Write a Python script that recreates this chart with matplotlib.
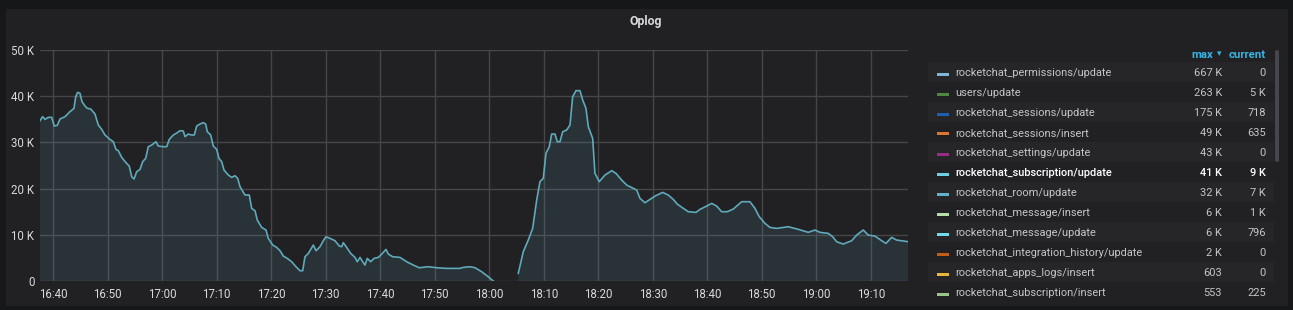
import numpy as np
import pandas as pd
import matplotlib
matplotlib.use("Agg")
import matplotlib.pyplot as plt
import matplotlib.dates as mdates
from matplotlib.patches import Rectangle, FancyBboxPatch

plt.rcParams['font.family'] = ['Roboto', 'DejaVu Sans']

# ---- data: minutes after 16:00, value in thousands ----
minutes = [37.56, 38.05, 38.48, 39.08, 39.71, 40.18, 40.73, 41.23, 42.15, 43.06, 43.80, 44.11, 44.48,
           44.90, 45.27, 45.82, 46.24, 46.86, 47.65, 48.26, 48.88, 49.49, 50.40, 51.01, 51.50, 51.93,
           52.55, 53.34, 53.94, 54.39, 54.81, 55.30, 55.91, 56.40, 56.95, 57.43, 58.06, 58.84, 59.27,
           60.18, 60.81, 61.28, 62.02, 62.75, 63.25, 63.85, 64.17, 64.77, 65.39, 65.87, 66.31, 66.92,
           67.52, 67.96, 68.26, 68.88, 69.36, 69.98, 70.40, 70.90, 71.32, 72.11, 72.73, 73.34, 73.83,
           74.26, 75.17, 75.96, 76.40, 77.01, 77.43, 78.24, 79.03, 79.45, 80.26, 80.99, 81.60, 82.20,
           82.94, 83.74, 84.53, 85.27, 85.76, 86.18, 86.79, 87.71, 88.20, 88.94, 89.54, 90.04, 90.77,
           91.69, 92.48, 92.92, 93.21, 93.83, 94.57, 95.36, 95.78, 96.28, 96.77, 97.19, 97.61, 98.24,
           98.84, 99.63, 100.26, 101.05, 101.47, 102.28, 103.61, 104.84, 106.06, 107.16, 108.81,
           110.35, 112.18, 114.62, 115.23, 116.46, 117.38, 118.61, 119.82, 120.73,
           123.00,
           125.32, 126.24, 127.16, 127.96, 128.70, 129.30, 129.91, 130.40, 131.01, 131.45, 132.06,
           132.48, 132.97, 133.47, 134.20, 134.81, 135.30, 135.91, 136.64, 137.14, 137.74, 138.17,
           138.97, 139.39, 140.18, 141.23, 142.46, 143.25, 144.29, 145.21, 146.42, 147.05, 147.65,
           148.57, 149.49, 150.40, 151.82, 152.84, 153.76, 154.50, 155.60, 156.51, 157.93, 158.66,
           159.89, 160.81, 161.72, 162.64, 163.67, 164.77, 166.31, 167.83, 168.75, 169.54, 170.59,
           171.50, 172.73, 174.86, 176.70, 178.53, 179.76, 180.68, 182.20, 183.01, 183.74, 184.95,
           186.50, 187.41, 188.62, 189.54, 190.77, 192.00, 192.79, 193.83, 194.75, 196.88]

values_k = [34.71, 35.57, 34.99, 35.42, 35.42, 33.54, 33.69, 35.06, 35.57, 36.65, 37.37, 39.90, 40.84,
            40.62, 38.82, 37.88, 37.37, 37.23, 36.15, 33.76, 32.82, 31.60, 30.66, 30.15, 28.49, 28.20,
            26.76, 25.60, 24.88, 22.57, 22.07, 23.65, 24.16, 25.82, 26.54, 29.07, 29.43, 30.15, 29.21,
            29.07, 29.07, 30.66, 31.60, 32.10, 32.54, 32.46, 31.24, 31.81, 31.60, 31.60, 33.54, 33.98,
            34.27, 33.98, 32.32, 31.60, 29.21, 28.49, 26.54, 25.82, 24.02, 22.94, 22.43, 22.79, 22.22,
            20.41, 18.61, 18.61, 15.72, 15.21, 13.19, 11.60, 11.03, 9.22, 7.78, 7.27, 6.55, 5.40,
            4.89, 4.17, 3.09, 2.22, 2.22, 5.25, 5.97, 7.78, 6.55, 7.42, 8.72, 9.58, 9.22,
            8.72, 7.56, 7.42, 8.29, 7.27, 5.97, 5.11, 4.17, 5.11, 4.17, 3.45, 4.89, 4.17,
            4.89, 5.11, 5.83, 6.84, 5.83, 5.25, 5.11, 4.17, 3.45, 2.87, 3.09,
            2.87, 2.73, 2.73, 2.95, 3.09, 2.87, 2.00, 0.92, 0.0,
            None,
            1.66, 6.35, 8.88, 11.40, 17.54, 21.51, 22.22, 27.64, 29.07, 31.81, 31.81,
            30.15, 30.15, 32.32, 32.68, 33.76, 39.90, 41.20, 41.20, 39.18, 37.37, 33.40,
            30.87, 23.29, 21.51, 22.94, 23.88, 23.29, 21.85, 20.77, 20.05, 19.69, 17.88,
            16.94, 17.66, 18.38, 19.18, 18.61, 17.66, 16.65, 15.72, 15.00, 14.85, 15.50,
            16.22, 16.80, 16.22, 15.00, 15.00, 15.57, 17.16, 17.16, 15.72, 13.91, 12.47,
            11.60, 11.39, 11.75, 11.18, 10.53, 11.03, 10.53, 10.31, 9.58, 8.50, 8.00,
            8.72, 9.94, 11.03, 9.94, 9.72, 8.72, 8.14, 9.44, 8.86, 8.50]

series_name = "rocketchat_subscription/update"

legend_names = ["rocketchat_permissions/update", "users/update", "rocketchat_sessions/update",
                "rocketchat_sessions/insert", "rocketchat_settings/update",
                "rocketchat_subscription/update", "rocketchat_room/update",
                "rocketchat_message/insert", "rocketchat_message/update",
                "rocketchat_integration_history/update", "rocketchat_apps_logs/insert",
                "rocketchat_subscription/insert"]
legend_max = ["667 K", "263 K", "175 K", "49 K", "43 K", "41 K", "32 K", "6 K", "6 K", "2 K", "603", "553"]
legend_current = ["0", "5 K", "718", "635", "0", "9 K", "7 K", "1 K", "796", "0", "0", "225"]
legend_colors = ["#82B5D8", "#508642", "#1F5FAF", "#E0752D", "#962D82", "#6ED0E0", "#64B0C8",
                 "#B7DBAB", "#70DBED", "#C15C17", "#EAB839", "#9AC48A"]

y_ticks_k = [0, 10, 20, 30, 40, 50]
y_tick_labels = ["0", "10 K", "20 K", "30 K", "40 K", "50 K"]

# ---- build ----
W, H = 1293, 310
fig = plt.figure(figsize=(W / 100, H / 100), dpi=100)
fig.patch.set_facecolor("#161719")

def px(x, y):
    return x / W, 1 - y / H

# panel background (behind everything)
fig.patches.append(Rectangle((6 / W, 1 - 306 / H), (1288 - 6) / W, (306 - 9) / H,
                             transform=fig.transFigure, facecolor="#212124", edgecolor="none",
                             zorder=-10))

fig.text(*px(646, 21), "Oplog", ha="center", va="center", color="#d8d9da",
         fontsize=8.8, fontweight="bold")

ax_l, ax_r, ax_t, ax_b = 40, 908, 50, 281
ax = fig.add_axes([ax_l / W, 1 - ax_b / H, (ax_r - ax_l) / W, (ax_b - ax_t) / H])
ax.set_facecolor("none")
ax.set_zorder(5)

base = pd.Timestamp("2020-01-01 16:00:00")
t = [base + pd.Timedelta(minutes=m) for m in minutes]
v = np.array([np.nan if x is None else x * 1000 for x in values_k], dtype=float)
tn = mdates.date2num(t)

line_color = "#60A9BA"
ax.fill_between(tn, 0, v, where=~np.isnan(v), color="#6ED0E0", alpha=0.10, linewidth=0, zorder=2)
ax.plot(tn, v, color=line_color, linewidth=1.2, zorder=3, solid_joinstyle="round")

ax.set_xlim(mdates.date2num(base + pd.Timedelta(minutes=37.56)),
            mdates.date2num(base + pd.Timedelta(minutes=196.83)))
ax.set_ylim(0, 50000)
ax.set_yticks([k * 1000 for k in y_ticks_k])
ax.set_yticklabels(y_tick_labels)
ax.xaxis.set_major_locator(mdates.MinuteLocator(byminute=range(0, 60, 10)))
ax.xaxis.set_major_formatter(mdates.DateFormatter("%H:%M"))
ax.grid(True, color="#464648", linewidth=1.0, zorder=1)
ax.set_axisbelow(True)
for s in ax.spines.values():
    s.set_visible(False)
ax.tick_params(axis="both", length=0, colors="#d8d9da", labelsize=8.3)
ax.tick_params(axis="y", pad=4)
ax.tick_params(axis="x", pad=5)

# ---- legend table ----
row0 = 72
dy = 20
fig.text(*px(1213, 55), "max", ha="right", va="center", color="#33b5e5", fontsize=8.2, fontweight="bold")
fig.text(*px(1221, 54), "\u25BE", ha="right", va="center", color="#33b5e5", fontsize=6.5,
         family=["DejaVu Sans"])
fig.text(*px(1266, 55), "current", ha="right", va="center", color="#33b5e5", fontsize=8.2,
         fontweight="bold")

for i, (name, mx, cur, col) in enumerate(zip(legend_names, legend_max, legend_current, legend_colors)):
    yc = row0 + i * dy
    if i % 2 == 0:
        fig.patches.append(Rectangle((928 / W, 1 - (yc + 10) / H), (1274 - 928) / W, 20 / H,
                                     transform=fig.transFigure, facecolor="#262629",
                                     edgecolor="none", zorder=1))
    fig.patches.append(Rectangle((937 / W, 1 - (yc + 3.5) / H), 12 / W, 3 / H,
                                 transform=fig.transFigure, facecolor=col, edgecolor="none", zorder=2))
    hl = name == series_name
    tc = "#ffffff" if hl else "#c4c5c7"
    fw = "medium" if hl else "normal"
    ty = yc + 1
    fig.text(*px(955, ty), name, ha="left", va="center", color=tc, fontsize=7.9, fontweight=fw)
    fig.text(*px(1222, ty), mx, ha="right", va="center", color=tc, fontsize=7.9, fontweight=fw)
    fig.text(*px(1266, ty), cur, ha="right", va="center", color=tc, fontsize=7.9, fontweight=fw)

# scrollbar
fig.patches.append(FancyBboxPatch((1275 / W, 1 - 162 / H), 4 / W, 112 / H,
                                  boxstyle="round,pad=0,rounding_size=0.003",
                                  transform=fig.transFigure, facecolor="#45464e",
                                  edgecolor="none", zorder=2))

fig.savefig("out.png", dpi=100, facecolor=fig.get_facecolor())
